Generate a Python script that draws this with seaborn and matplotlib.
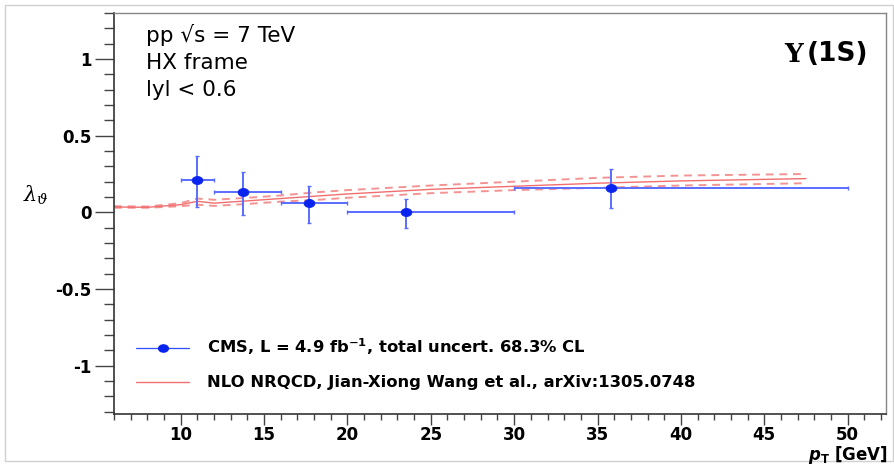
import numpy as np
import pandas as pd
import matplotlib
matplotlib.use("Agg")
import matplotlib.pyplot as plt
from matplotlib.lines import Line2D
from matplotlib.patches import Rectangle
from matplotlib.path import Path
from matplotlib.transforms import Affine2D
import seaborn as sns

# ---- data ----
pt = [11.0, 13.75, 17.7, 23.5, 35.8]
lam = [0.21, 0.13, 0.06, 0.00, 0.16]
pt_lo = [10.0, 12.0, 16.0, 20.0, 30.0]
pt_hi = [12.0, 16.0, 20.0, 30.0, 50.0]
lam_err_up = [0.155, 0.13, 0.115, 0.09, 0.125]
lam_err_dn = [0.175, 0.15, 0.13, 0.10, 0.13]

th_pt = [6, 8, 10, 11, 12, 14, 16, 18, 20, 25, 30, 35, 40, 47.5]
th_central = [0.035, 0.033, 0.05, 0.072, 0.06, 0.075, 0.09, 0.105, 0.12, 0.15, 0.17, 0.19, 0.205, 0.22]
th_upper = [0.040, 0.038, 0.06, 0.09, 0.082, 0.095, 0.11, 0.13, 0.145, 0.175, 0.20, 0.225, 0.24, 0.25]
th_lower = [0.030, 0.030, 0.04, 0.05, 0.042, 0.055, 0.07, 0.08, 0.095, 0.125, 0.145, 0.16, 0.175, 0.19]

x_ticks = [10, 15, 20, 25, 30, 35, 40, 45, 50]
y_ticks = [-1, -0.5, 0, 0.5, 1]
y_tick_labels = ["-1", "-0.5", "0", "0.5", "1"]

sns.set_theme(style="white")
plt.rcParams['font.family'] = ['DejaVu Sans']
plt.rcParams['text.color'] = 'black'
plt.rcParams['xtick.color'] = '#444444'
plt.rcParams['ytick.color'] = '#444444'
plt.rcParams['xtick.labelcolor'] = 'black'
plt.rcParams['ytick.labelcolor'] = 'black'
plt.rcParams['mathtext.fontset'] = 'custom'
plt.rcParams['mathtext.rm'] = 'DejaVu Sans:bold'
plt.rcParams['mathtext.it'] = 'DejaVu Sans:italic:bold'
plt.rcParams['mathtext.bf'] = 'DejaVu Sans:bold'

fig = plt.figure(figsize=(8.94, 4.66), dpi=100)
W, H = 894, 466
ax = fig.add_axes([114 / W, 1 - 414 / H, (886 - 114) / W, (414 - 13) / H])

# outer canvas frame
fig.patches.append(Rectangle((5 / W, 5 / H), (893 - 5) / W, (461 - 5) / H,
                             transform=fig.transFigure, fill=False,
                             edgecolor="#d0d0d0", linewidth=1.0))

# wide ellipse marker (reference is horizontally stretched)
ell = Path.unit_circle().transformed(Affine2D().scale(1.35, 1.0))

th = pd.DataFrame({"pt": th_pt, "central": th_central, "upper": th_upper, "lower": th_lower})
red = "#f07070"
sns.lineplot(data=th, x="pt", y="central", ax=ax, color="#ee5555", lw=1.0, alpha=0.85)
sns.lineplot(data=th, x="pt", y="upper", ax=ax, color=red, lw=1.4, alpha=0.75, linestyle=(0, (4, 3)))
sns.lineplot(data=th, x="pt", y="lower", ax=ax, color=red, lw=1.4, alpha=0.75, linestyle=(0, (4, 3)))

df = pd.DataFrame({"pt": pt, "lam": lam})
xerr = [np.array(pt) - np.array(pt_lo), np.array(pt_hi) - np.array(pt)]
yerr = [lam_err_dn, lam_err_up]
ax.errorbar(pt, lam, xerr=xerr, yerr=yerr, fmt="none", ecolor="#5a6cff",
            elinewidth=1.4, capsize=1.5, capthick=1.0)
sns.scatterplot(data=df, x="pt", y="lam", ax=ax, color="#0a24f0", s=60, marker=ell,
                edgecolor="#0a24f0", zorder=5)

ax.set_xlim(6.0, 52.3)
ax.set_ylim(-1.315, 1.3)
ax.set_xlabel("")
ax.set_ylabel("")

ax.set_xticks(x_ticks)
ax.set_xticklabels([str(t) for t in x_ticks], fontweight="bold", fontsize=12)
ax.set_yticks(y_ticks)
ax.set_yticklabels(y_tick_labels, fontweight="bold", fontsize=12)
ax.set_xticks(np.arange(6, 53, 1), minor=True)
ax.set_yticks(np.arange(-1.3, 1.31, 0.1), minor=True)
ax.tick_params(axis="x", which="major", direction="out", length=8, width=1, pad=1)
ax.tick_params(axis="x", which="minor", direction="out", length=4, width=1)
ax.tick_params(axis="y", which="major", direction="out", length=14, width=1, pad=2)
ax.tick_params(axis="y", which="minor", direction="out", length=7, width=1)
ax.tick_params(axis="both", which="both", bottom=True, left=True)
for s in ["left", "bottom"]:
    ax.spines[s].set_color("#333333")
    ax.spines[s].set_linewidth(1.2)
for s in ["top", "right"]:
    ax.spines[s].set_color("#888888")
    ax.spines[s].set_linewidth(1.0)

# texts
fig.text(146 / W, 1 - 35 / H, "pp \u221as = 7 TeV", fontsize=15.5, va="center", ha="left")
fig.text(146 / W, 1 - 63 / H, "HX frame", fontsize=15.5, va="center", ha="left")
fig.text(146 / W, 1 - 90 / H, "lyl < 0.6", fontsize=15.5, va="center", ha="left")
fig.text(868 / W, 1 - 54 / H, "(1S)", fontsize=19, fontweight="bold", va="center", ha="right")
fig.text(803 / W, 1 - 54 / H, "Υ", fontsize=19, fontweight="bold", va="center", ha="right",
         family="DejaVu Serif")
fig.text(36 / W, 1 - 195 / H, r"$\lambda_{\vartheta}$", fontsize=15, va="center", ha="center",
         math_fontfamily="dejavuserif")
fig.text(888 / W, 1 - 455 / H, r"$p_{\mathbf{T}}$ [GeV]", fontsize=12, fontweight="bold",
         va="center", ha="right")

# legend
h1 = Line2D([], [], color="#2f4fff", lw=0.9, marker=ell, markersize=7,
            markerfacecolor="#0a24f0", markeredgecolor="#0a24f0")
h2 = Line2D([], [], color=red, lw=1.0)
ax.legend([h1, h2],
          ["CMS, L = 4.9 fb$^{\\mathbf{-1}}$, total uncert. 68.3% CL",
           "NLO NRQCD, Jian-Xiong Wang et al., arXiv:1305.0748"],
          loc="lower left", bbox_to_anchor=(0.010, 0.022), frameon=False,
          prop={"weight": "bold", "size": 11.8}, handlelength=3.2,
          handletextpad=1.1, labelspacing=1.1)

fig.savefig("out.png", dpi=100)
